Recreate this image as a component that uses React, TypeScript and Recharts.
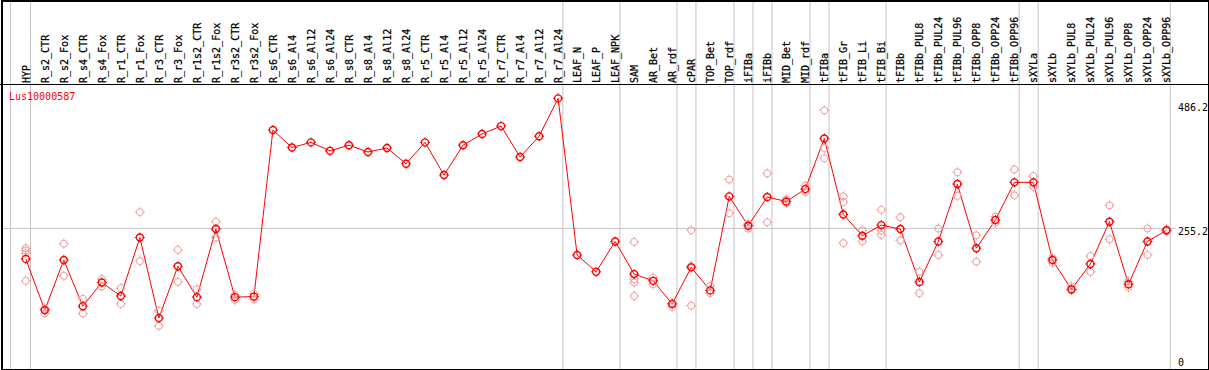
import React from "react";
import { ComposedChart, Line, ReferenceLine, Scatter, XAxis, YAxis } from "recharts";

const categories = [
  "HYP", "R_s2_CTR", "R_s2_Fox", "R_s4_CTR", "R_s4_Fox", "R_r1_CTR", "R_r1_Fox", "R_r3_CTR",
  "R_r3_Fox", "R_r1s2_CTR", "R_r1s2_Fox", "R_r3s2_CTR", "R_r3s2_Fox", "R_s6_CTR", "R_s6_Al4",
  "R_s6_Al12", "R_s6_Al24", "R_s8_CTR", "R_s8_Al4", "R_s8_Al12", "R_s8_Al24", "R_r5_CTR",
  "R_r5_Al4", "R_r5_Al12", "R_r5_Al24", "R_r7_CTR", "R_r7_Al4", "R_r7_Al12", "R_r7_Al24",
  "LEAF_N", "LEAF_P", "LEAF_NPK", "SAM", "AR_Bet", "AR_rdf", "cPAR", "TOP_Bet", "TOP_rdf",
  "iFIBa", "iFIBb", "MID_Bet", "MID_rdf", "tFIBa", "tFIB_Gr", "tFIB_Li", "tFIB_Bi", "tFIBb",
  "tFIBb_PUL8", "tFIBb_PUL24", "tFIBb_PUL96", "tFIBb_OPP8", "tFIBb_OPP24", "tFIBb_OPP96",
  "sXYLa", "sXYLb", "sXYLb_PUL8", "sXYLb_PUL24", "sXYLb_PUL96", "sXYLb_OPP8", "sXYLb_OPP24",
  "sXYLb_OPP96"
];

const means = [
  201, 110, 199, 117, 159, 135, 239, 96, 188, 133, 254, 133, 134, 430, 399, 408, 393, 403, 391,
  398, 370, 408, 350, 403, 423, 437, 382, 419, 486.2, 208, 178, 232, 174, 162, 121, 186, 145, 312,
  260, 311, 303, 325, 415, 280, 242, 261, 254, 160, 232, 334, 220, 270, 337, 337, 199, 147, 192,
  267, 156, 232, 252
];

// individual samples, one list per category (empty = none shown)
const replicates: number[][] = [
  [220, 216, 211, 162], [113, 104], [228, 171], [130, 104], [165, 152], [149, 121], [284, 197],
  [109, 82], [217, 160], [147, 121], [267, 239], [137, 128], [139, 129],
  [], [], [], [], [], [], [], [], [], [], [], [], [], [], [], [], [], [], [],
  [231, 165, 159, 135], [168, 156], [122, 116], [252, 188, 118], [153, 140], [342, 282],
  [255, 263], [353, 266], [300, 307], [331, 320], [465, 398, 380], [312, 302, 229], [252, 232],
  [288, 251, 244], [275, 234], [178, 140], [255, 208], [355, 313], [243, 196], [276, 265],
  [360, 314], [348, 329], [203, 194], [152, 145], [206, 178], [296, 236], [161, 151], [255, 208],
  [253, 250]
];

// last category index of each group (vertical separators)
const groupEnds = [-1.05, 0, 28, 31, 34, 35, 37, 38, 39, 41, 42, 45, 52, 53, 59.95];
const yTicks = [0, 255.2, 486.2];
const geneName = "Lus10000587";

const rows = categories.map((name, idx) => ({ idx, name, mean: means[idx] }));
const samplePoints = replicates.flatMap((list, idx) => list.map((v) => ({ idx, v })));

const FONT = "'DejaVu Sans Mono', monospace";
const RED = "#ff0000";
const PINK = "#f0a0a0";
const GRID = "#c4c4c4";

function Marker({ cx, cy, color, width }: { cx?: number; cy?: number; color: string; width: number }) {
  if (cx == null || cy == null || Number.isNaN(cy)) return <g />;
  const r = 3.5;
  const d =
    `M${cx} ${cy - r - 1.5}V${cy - r + 0.5}M${cx} ${cy + r - 0.5}V${cy + r + 1.5}` +
    `M${cx - r - 1.5} ${cy}H${cx - r + 0.5}M${cx + r - 0.5} ${cy}H${cx + r + 1.5}`;
  return (
    <g>
      <circle cx={cx} cy={cy} r={r} fill="none" stroke={color} strokeWidth={width} />
      <path d={d} stroke={color} strokeWidth={1} fill="none" />
    </g>
  );
}

function CategoryTick({ x, y, payload }: any) {
  const bx = Math.round(x) + 3.5;
  return (
    <text
      x={bx}
      y={y}
      transform={`rotate(-90 ${bx} ${y})`}
      textAnchor="start"
      fontFamily={FONT}
      fontSize={10}
      fill="#000"
      stroke="#000"
      strokeWidth={0.25}
    >
      {categories[payload.value]}
    </text>
  );
}

function ValueTick({ x, y, payload }: any) {
  const v = payload.value;
  const dy = v === 0 ? -6 : v > 400 ? 13 : 7;
  return (
    <text x={x} y={y + dy} textAnchor="start" fontFamily={FONT} fontSize={10} fill="#000">
      {v}
    </text>
  );
}

export default function App() {
  return (
    <div
      style={{
        position: "absolute",
        left: 0,
        top: 0,
        width: 1209,
        height: 370,
        overflow: "hidden",
        background: "#fff"
      }}
    >
      <ComposedChart
        width={1209}
        height={372}
        data={rows}
        margin={{ top: 0, right: 1, bottom: 0, left: 2 }}
      >
        <XAxis
          xAxisId={0}
          type="number"
          dataKey="idx"
          orientation="top"
          height={85}
          domain={[-1.25, 60.5]}
          ticks={categories.map((_, i) => i)}
          interval={0}
          tickLine={false}
          axisLine={false}
          tickSize={0}
          tickMargin={2}
          tick={<CategoryTick />}
        />
        <YAxis
          type="number"
          orientation="right"
          width={32}
          domain={[0, 510]}
          ticks={yTicks}
          interval={0}
          tickLine={false}
          axisLine={false}
          tickSize={0}
          tickMargin={2}
          tick={<ValueTick />}
        />
        {groupEnds.map((g) => (
          <ReferenceLine
            key={g}
            segment={[
              { x: g + 0.25, y: -20 },
              { x: g + 0.25, y: 700 }
            ]}
            stroke={GRID}
            strokeWidth={1}
            ifOverflow="visible"
          />
        ))}
        <ReferenceLine y={255.2} stroke={GRID} strokeWidth={1} />
        <Scatter
          data={samplePoints}
          dataKey="v"
          isAnimationActive={false}
          shape={(p: any) => <Marker cx={p.cx} cy={p.cy} color={PINK} width={1} />}
        />
        <Line
          dataKey="mean"
          stroke={RED}
          strokeWidth={1}
          isAnimationActive={false}
          dot={(p: any) => <Marker key={p.index} cx={p.cx} cy={p.cy} color={RED} width={1.4} />}
          activeDot={false}
        />
      </ComposedChart>
      <div
        style={{
          position: "absolute",
          left: 0,
          top: 84,
          width: 1209,
          height: 1,
          background: "#000"
        }}
      />
      <div
        style={{
          position: "absolute",
          left: 9,
          top: 91,
          fontFamily: FONT,
          fontSize: 10,
          lineHeight: "12px",
          color: RED
        }}
      >
        {geneName}
      </div>
      <div
        style={{
          position: "absolute",
          left: 1,
          top: 0,
          width: 1208,
          height: 370,
          boxSizing: "border-box",
          border: "1px solid #000",
          borderTopWidth: 2,
          borderLeftWidth: 2,
          pointerEvents: "none"
        }}
      />
    </div>
  );
}
